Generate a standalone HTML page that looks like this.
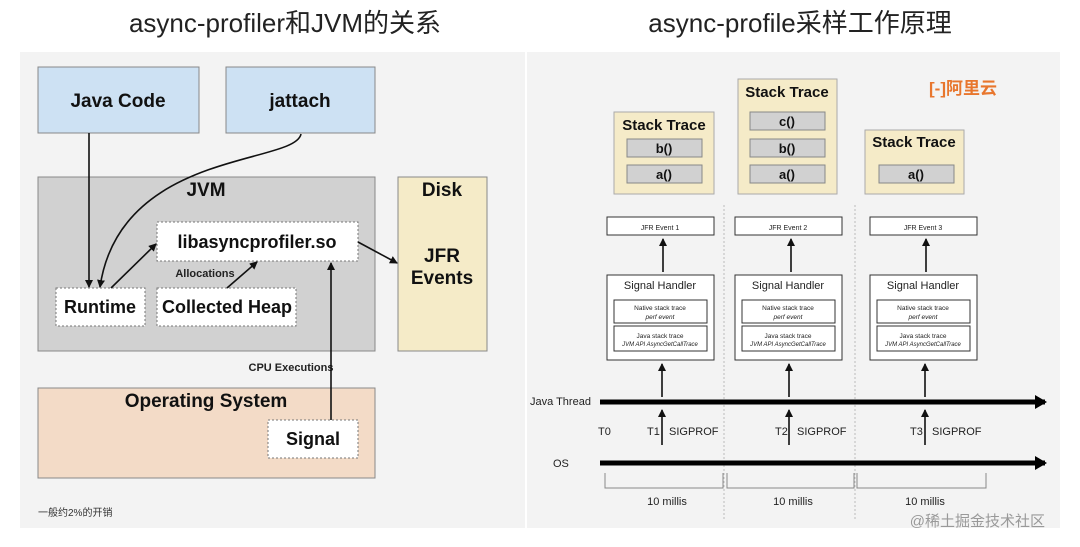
<!DOCTYPE html>
<html><head><meta charset="utf-8"><style>
html,body{margin:0;padding:0;background:#fff;}
svg{display:block;}
text{font-family:"Liberation Sans","Noto Sans CJK SC",sans-serif;}
</style></head><body>
<svg width="1080" height="547" viewBox="0 0 1080 547" xmlns="http://www.w3.org/2000/svg">
<defs>
<marker id="ah" markerWidth="8" markerHeight="8" refX="7" refY="4" orient="auto" markerUnits="userSpaceOnUse"><path d="M0,0 L8,4 L0,8 z" fill="#111"/></marker>
<marker id="big" markerWidth="12" markerHeight="14" refX="10" refY="7" orient="auto" markerUnits="userSpaceOnUse"><path d="M0,0 L12,7 L0,14 z" fill="#000"/></marker>
</defs>
<text x="285" y="32" font-size="26" text-anchor="middle" fill="#222">async-profiler和JVM的关系</text>
<text x="800" y="32" font-size="26" text-anchor="middle" fill="#222">async-profile采样工作原理</text>
<rect x="20" y="52" width="505" height="476" fill="#f3f3f3"/>
<rect x="527" y="52" width="533" height="476" fill="#f3f3f3"/>

<!-- left -->
<rect x="38" y="67" width="161" height="66" fill="#cde1f3" stroke="#888"/>
<text x="118" y="107" font-size="19" font-weight="bold" text-anchor="middle" fill="#111">Java Code</text>
<rect x="226" y="67" width="149" height="66" fill="#cde1f3" stroke="#888"/>
<text x="300" y="107" font-size="19" font-weight="bold" text-anchor="middle" fill="#111">jattach</text>
<rect x="38" y="177" width="337" height="174" fill="#d1d1d1" stroke="#888"/>
<text x="206" y="196" font-size="19" font-weight="bold" text-anchor="middle" fill="#111">JVM</text>
<rect x="398" y="177" width="89" height="174" fill="#f5ebc8" stroke="#888"/>
<text x="442" y="196" font-size="19" font-weight="bold" text-anchor="middle" fill="#111">Disk</text>
<text x="442" y="262" font-size="19" font-weight="bold" text-anchor="middle" fill="#111">JFR</text>
<text x="442" y="284" font-size="19" font-weight="bold" text-anchor="middle" fill="#111">Events</text>
<rect x="157" y="222" width="201" height="39" fill="#fff" stroke="#777" stroke-dasharray="2,2"/>
<text x="257" y="248" font-size="18" font-weight="bold" text-anchor="middle" fill="#111">libasyncprofiler.so</text>
<rect x="56" y="288" width="89" height="38" fill="#fff" stroke="#777" stroke-dasharray="2,2"/>
<text x="100" y="313" font-size="18" font-weight="bold" text-anchor="middle" fill="#111">Runtime</text>
<rect x="157" y="288" width="139" height="38" fill="#fff" stroke="#777" stroke-dasharray="2,2"/>
<text x="227" y="313" font-size="18" font-weight="bold" text-anchor="middle" fill="#111">Collected Heap</text>
<text x="205" y="277" font-size="11" font-weight="bold" text-anchor="middle" fill="#222">Allocations</text>
<text x="291" y="371" font-size="11" font-weight="bold" text-anchor="middle" fill="#222">CPU Executions</text>
<rect x="38" y="388" width="337" height="90" fill="#f3dbc7" stroke="#888"/>
<text x="206" y="407" font-size="19" font-weight="bold" text-anchor="middle" fill="#111">Operating System</text>
<rect x="268" y="420" width="90" height="38" fill="#fff" stroke="#777" stroke-dasharray="2,2"/>
<text x="313" y="445" font-size="18" font-weight="bold" text-anchor="middle" fill="#111">Signal</text>
<text x="38" y="516" font-size="10" fill="#333">一般约2%的开销</text>
<g stroke="#111" stroke-width="1.6" fill="none" marker-end="url(#ah)">
<line x1="89" y1="133" x2="89" y2="287"/>
<path d="M301,134 C295,165 120,150 100,287"/>
<line x1="111" y1="288" x2="156" y2="244"/>
<line x1="227" y1="288" x2="257" y2="262"/>
<line x1="331" y1="420" x2="331" y2="263"/>
<line x1="358" y1="242" x2="397" y2="263"/>
</g>

<!-- right -->
<g font-weight="bold" text-anchor="middle" fill="#111">
<rect x="614" y="112" width="100" height="82" fill="#f5ebc8" stroke="#aaa"/>
<text x="664" y="130" font-size="15">Stack Trace</text>
<rect x="627" y="139" width="75" height="18" fill="#d1d1d1" stroke="#888"/><text x="664" y="153" font-size="13">b()</text>
<rect x="627" y="165" width="75" height="18" fill="#d1d1d1" stroke="#888"/><text x="664" y="179" font-size="13">a()</text>
<rect x="738" y="79" width="99" height="115" fill="#f5ebc8" stroke="#aaa"/>
<text x="787" y="97" font-size="15">Stack Trace</text>
<rect x="750" y="112" width="75" height="18" fill="#d1d1d1" stroke="#888"/><text x="787" y="126" font-size="13">c()</text>
<rect x="750" y="139" width="75" height="18" fill="#d1d1d1" stroke="#888"/><text x="787" y="153" font-size="13">b()</text>
<rect x="750" y="165" width="75" height="18" fill="#d1d1d1" stroke="#888"/><text x="787" y="179" font-size="13">a()</text>
<rect x="865" y="130" width="99" height="64" fill="#f5ebc8" stroke="#aaa"/>
<text x="914" y="147" font-size="15">Stack Trace</text>
<rect x="879" y="165" width="75" height="18" fill="#d1d1d1" stroke="#888"/><text x="916" y="179" font-size="13">a()</text>
</g>
<text x="963" y="94" font-size="17" font-weight="bold" text-anchor="middle" fill="#e8762d">[-]阿里云</text>
<g stroke="#bbb" stroke-dasharray="2,2"><line x1="724" y1="205" x2="724" y2="520"/><line x1="855" y1="205" x2="855" y2="520"/></g>

<g id="col" text-anchor="middle" fill="#222">
<rect x="607" y="217" width="107" height="18" fill="#fff" stroke="#333"/>
<text x="660" y="230" font-size="7">JFR Event 1</text>
<rect x="607" y="275" width="107" height="85" fill="#fff" stroke="#333"/>
<text x="660" y="289" font-size="11">Signal Handler</text>
<rect x="614" y="300" width="93" height="23" fill="#fff" stroke="#333"/>
<text x="660" y="310" font-size="6.5">Native stack trace</text><text x="660" y="319" font-size="6.5" font-style="italic">perf event</text>
<rect x="614" y="326" width="93" height="25" fill="#fff" stroke="#333"/>
<text x="660" y="338" font-size="6.5">Java stack trace</text><text x="660" y="346" font-size="6" font-style="italic">JVM API AsyncGetCallTrace</text>
</g>
<g text-anchor="middle" fill="#222">
<rect x="735" y="217" width="107" height="18" fill="#fff" stroke="#333"/>
<text x="788" y="230" font-size="7">JFR Event 2</text>
<rect x="735" y="275" width="107" height="85" fill="#fff" stroke="#333"/>
<text x="788" y="289" font-size="11">Signal Handler</text>
<rect x="742" y="300" width="93" height="23" fill="#fff" stroke="#333"/>
<text x="788" y="310" font-size="6.5">Native stack trace</text><text x="788" y="319" font-size="6.5" font-style="italic">perf event</text>
<rect x="742" y="326" width="93" height="25" fill="#fff" stroke="#333"/>
<text x="788" y="338" font-size="6.5">Java stack trace</text><text x="788" y="346" font-size="6" font-style="italic">JVM API AsyncGetCallTrace</text>
<rect x="870" y="217" width="107" height="18" fill="#fff" stroke="#333"/>
<text x="923" y="230" font-size="7">JFR Event 3</text>
<rect x="870" y="275" width="107" height="85" fill="#fff" stroke="#333"/>
<text x="923" y="289" font-size="11">Signal Handler</text>
<rect x="877" y="300" width="93" height="23" fill="#fff" stroke="#333"/>
<text x="923" y="310" font-size="6.5">Native stack trace</text><text x="923" y="319" font-size="6.5" font-style="italic">perf event</text>
<rect x="877" y="326" width="93" height="25" fill="#fff" stroke="#333"/>
<text x="923" y="338" font-size="6.5">Java stack trace</text><text x="923" y="346" font-size="6" font-style="italic">JVM API AsyncGetCallTrace</text>
</g>
<g stroke="#111" stroke-width="1.6" marker-end="url(#ah)">
<line x1="663" y1="272" x2="663" y2="239"/><line x1="791" y1="272" x2="791" y2="239"/><line x1="926" y1="272" x2="926" y2="239"/>
<line x1="662" y1="397" x2="662" y2="364"/><line x1="789" y1="397" x2="789" y2="364"/><line x1="925" y1="397" x2="925" y2="364"/>
<line x1="662" y1="445" x2="662" y2="410"/><line x1="789" y1="445" x2="789" y2="410"/><line x1="925" y1="445" x2="925" y2="410"/>
</g>
<g stroke="#000" stroke-width="5" marker-end="url(#big)">
<line x1="600" y1="402" x2="1045" y2="402"/>
<line x1="600" y1="463" x2="1045" y2="463"/>
</g>
<g font-size="11" fill="#222">
<text x="530" y="405">Java Thread</text>
<text x="553" y="467">OS</text>
<text x="598" y="435">T0</text>
<text x="647" y="435">T1</text><text x="669" y="435">SIGPROF</text>
<text x="775" y="435">T2</text><text x="797" y="435">SIGPROF</text>
<text x="910" y="435">T3</text><text x="932" y="435">SIGPROF</text>
</g>
<g stroke="#888" fill="none">
<path d="M605,473 V488 H723 V473"/><path d="M727,473 V488 H854 V473"/><path d="M857,473 V488 H986 V473"/>
</g>
<g font-size="11" fill="#222" text-anchor="middle">
<text x="667" y="505">10 millis</text><text x="793" y="505">10 millis</text><text x="925" y="505">10 millis</text>
</g>
<text x="1045" y="526" font-size="15" text-anchor="end" fill="#999">@稀土掘金技术社区</text>
</svg>
</body></html>
